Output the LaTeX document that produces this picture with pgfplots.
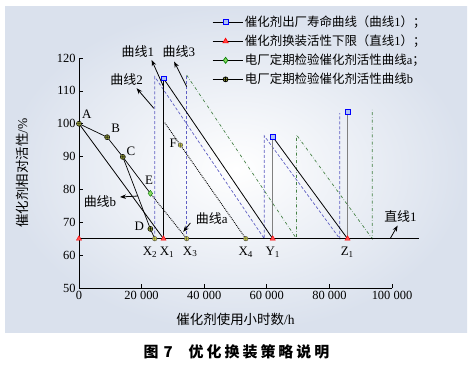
\documentclass[border=0pt]{standalone}
\usepackage{pgfplots}
\pgfplotsset{compat=1.18}
\usepackage{fontspec}
\setmainfont{Liberation Serif}
\newfontfamily\cjk{Noto Sans CJK SC}
\usetikzlibrary{arrows.meta}
\definecolor{panelout}{RGB}{218,225,237}
\definecolor{curvetwo}{RGB}{95,95,195}
\definecolor{curvethree}{RGB}{70,130,70}
\definecolor{mkolive}{RGB}{150,160,60}
\definecolor{mkyellow}{RGB}{215,215,60}
\definecolor{mkgreen}{RGB}{140,215,100}
\definecolor{sqfill}{RGB}{175,195,245}
\begin{document}
\begin{tikzpicture}
\path[use as bounding box] (0,0) rectangle (473bp,-366bp);
\shade[inner color=white, outer color=panelout] (5bp,-6bp) rectangle (467bp,-332bp);
\begin{axis}[
  at={(79bp,-288bp)}, anchor=south west,
  scale only axis, width=313bp, height=230bp,
  xmin=0, xmax=100000, ymin=50, ymax=120,
  axis x line*=bottom, axis y line*=left,
  axis line style={-, line width=0.8pt},
  tick align=inside, major tick length=4bp,
  tick style={black, line width=0.7pt},
  xtick={0,20000,40000,60000,80000,100000},
  xticklabels={0,20~000,40~000,60~000,80~000,100~000},
  ytick={50,60,...,120},
  /pgf/number format/assume math mode=true,
  ticklabel style={font=\fontsize{12.5}{14}\selectfont},
  scaled x ticks=false,
  clip=false,
  xlabel={{\cjk 催化剂使用小时数}/h},
  ylabel={{\cjk 催化剂相对活性}/\%},
  label style={font=\fontsize{13.5}{16}\selectfont},
  xlabel style={at={(axis description cs:0.5,-0.135)}, anchor=center},
  ylabel style={at={(axis description cs:-0.182,0.5)}, anchor=center},
  legend style={at={(axis description cs:0.425,1.192)}, anchor=north west, draw=none, fill=none,
    font=\fontsize{12.5}{14}\selectfont, row sep=3bp, inner sep=0pt},
  legend cell align=left,
  legend image code/.code={\draw[mark repeat=2,mark phase=2,#1] plot coordinates {(0bp,0bp) (13bp,0bp) (30bp,0bp)};},
]
% legend images
\addlegendimage{black, line width=0.7pt, mark=square*, mark size=2.3pt, mark options={fill=sqfill, draw=blue}}
\addlegendentry{{\cjk 催化剂出厂寿命曲线（曲线}1{\cjk ）；}}
\addlegendimage{black, line width=0.7pt, mark=triangle*, mark size=3pt, mark options={fill=red!70, draw=red}}
\addlegendentry{{\cjk 催化剂换装活性下限（直线}1{\cjk ）；}}
\addlegendimage{black, line width=0.7pt, mark=diamond*, mark size=3pt, mark options={fill=mkgreen, draw=green!50!black}}
\addlegendentry{{\cjk 电厂定期检验催化剂活性曲线}a{\cjk ；}}
\addlegendimage{black, line width=0.7pt, mark=oplus*, mark size=2.5pt, mark options={fill=mkolive, draw=black}}
\addlegendentry{{\cjk 电厂定期检验催化剂活性曲线}b}

% curve 2 (blue dashed)
\addplot[curvetwo, densely dashed, line width=0.7pt, forget plot] coordinates {(24200,65) (24200,114.3) (59200,65) (59200,96.3) (83300,65) (83300,103.2)};
% curve 3
\addplot[curvetwo, densely dashed, line width=0.7pt, forget plot] coordinates {(34400,65) (34400,114.8)};
\addplot[curvethree, dash dot, line width=0.7pt, forget plot] coordinates {(34400,114.8) (69500,65) (69500,96.6) (93700,65) (93700,104.2)};
% curve 1
\addplot[black, line width=0.8pt, forget plot] coordinates {(0,100) (27000,65) (27000,113.8) (61900,65)};
\addplot[gray, line width=1.5pt, forget plot] coordinates {(61900,65) (61900,96)};
\addplot[black, line width=0.8pt, forget plot] coordinates {(61900,96) (85800,65)};
\addplot[gray, line width=1.5pt, forget plot] coordinates {(85800,65) (85800,103.6)};
% line 1
\addplot[black, line width=0.8pt, forget plot] coordinates {(0,65) (108500,65)};
% curve b
\addplot[black, line width=0.7pt, forget plot] coordinates {(0,100) (9000,95.9) (14000,89.9) (22800,68) (24200,65)};
\addplot[black, line width=0.7pt, forget plot] coordinates {(14000,89.9) (22800,78.8)};
% curve a (dotted)
\addplot[black, densely dotted, line width=0.9pt, forget plot] coordinates {(22800,78.8) (34400,65)};
\addplot[black, densely dotted, line width=0.9pt, forget plot] coordinates {(27400,100.3) (53300,65)};
% markers
\addplot[only marks, mark=triangle*, mark size=3pt, mark options={fill=red!70, draw=red}, forget plot] coordinates {(0,65) (27000,65) (61900,65) (85800,65)};
\addplot[only marks, mark=square*, mark size=2.3pt, mark options={fill=sqfill, draw=blue}, forget plot] coordinates {(27000,113.8) (61900,96) (85800,103.6)};
\addplot[only marks, mark=oplus*, mark size=2.6pt, mark options={fill=mkolive, draw=black}, forget plot] coordinates {(0,100) (9000,95.9) (14000,89.9) (22800,68)};
\addplot[only marks, mark=oplus*, mark size=2.3pt, mark options={fill=mkyellow, draw=black!70}, forget plot] coordinates {(24200,65) (34400,65) (53300,65) (32400,93.5)};
\addplot[only marks, mark=diamond*, mark size=3pt, mark options={fill=mkgreen, draw=green!50!black}, forget plot] coordinates {(22800,78.8)};

% point labels
\begin{scope}[every node/.style={font=\fontsize{13}{15}\selectfont, inner sep=0pt}]
\node at (axis cs:2500,102.8) {A};
\node at (axis cs:11700,98.6) {B};
\node at (axis cs:16600,91.5) {C};
\node at (axis cs:22400,82.9) {E};
\node at (axis cs:19300,68.7) {D};
\node at (axis cs:30100,94.2) {F};
\node at (axis cs:22700,61.0) {X\textsubscript{2}};
\node at (axis cs:28100,61.0) {X\textsubscript{1}};
\node at (axis cs:35500,61.0) {X\textsubscript{3}};
\node at (axis cs:53300,61.0) {X\textsubscript{4}};
\node at (axis cs:61900,60.9) {Y\textsubscript{1}};
\node at (axis cs:85700,60.9) {Z\textsubscript{1}};
\node at (axis cs:18800,121.9) {{\cjk 曲线}1};
\node at (axis cs:31900,121.9) {{\cjk 曲线}3};
\node at (axis cs:15200,113.5) {{\cjk 曲线}2};
\node at (axis cs:6700,76.3) {{\cjk 曲线}b};
\node at (axis cs:42400,71.2) {{\cjk 曲线}a};
\node at (axis cs:102700,71.9) {{\cjk 直线}1};
\end{scope}
% arrows
\begin{scope}[-{Stealth[length=6bp,width=4.5bp]}, line width=0.8pt]
\draw (axis cs:26900,111.5) -- (axis cs:23200,119.4);
\draw (axis cs:34400,111.3) -- (axis cs:30400,118.9);
\draw (axis cs:23900,104.7) -- (axis cs:18400,110.8);
\draw (axis cs:18900,78.0) -- (axis cs:13100,77.7);
\draw (axis cs:35600,69.8) -- (axis cs:33300,67.1);
\draw (axis cs:99400,65.0) -- (axis cs:101800,69.0);
\end{scope}
\end{axis}
\node[font=\cjk\bfseries\fontsize{15}{18}\selectfont, inner sep=0pt] at (236.5bp,-351.7bp)
  {图\hspace{5bp}7\hspace{16bp}优\hspace{3bp}化\hspace{3bp}换\hspace{3bp}装\hspace{3bp}策\hspace{3bp}略\hspace{3bp}说\hspace{3bp}明};
\end{tikzpicture}
\end{document}
